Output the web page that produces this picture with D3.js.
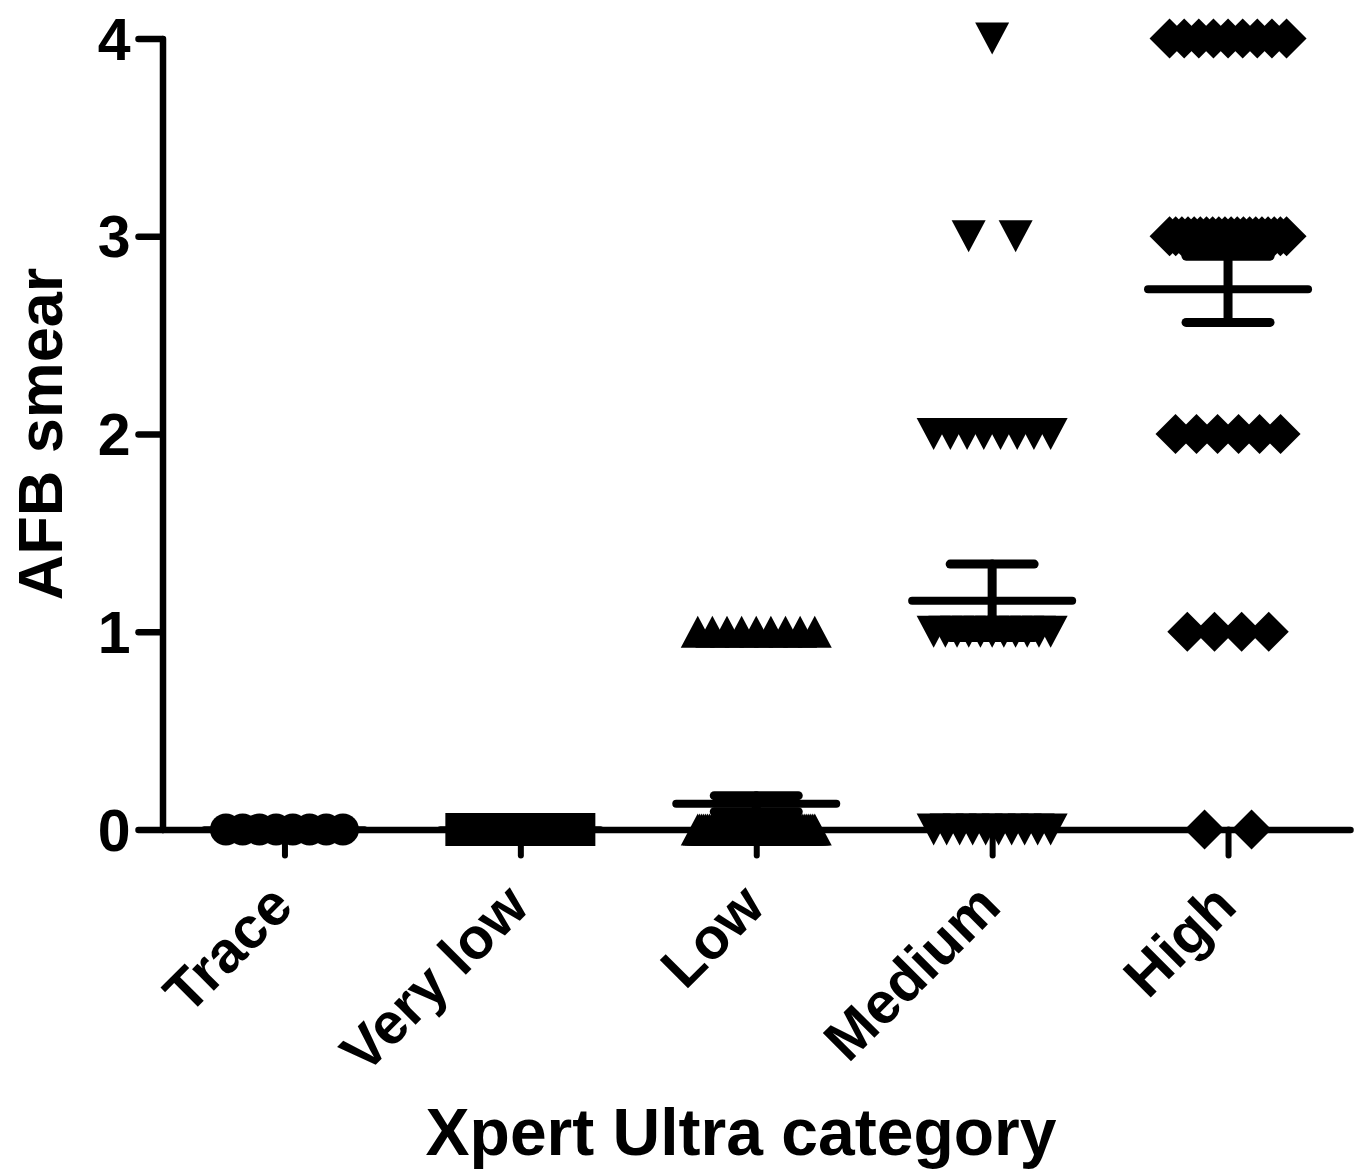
<!DOCTYPE html>
<html>
<head>
<meta charset="utf-8">
<script src="https://cdn.jsdelivr.net/npm/d3@7"></script>
<style>
  body { margin: 0; background: #fff; }
  svg text { font-family: "Liberation Sans", Arial, Helvetica, sans-serif; font-weight: bold; fill: #000; }
</style>
</head>
<body>
<div id="my_dataviz"></div>
<script>
// categories and the AFB smear grade of every sample
var categories = ["Trace", "Very low", "Low", "Medium", "High"];
var yTicks = [0, 1, 2, 3, 4];

var traceValues = [0, 0, 0, 0, 0, 0, 0, 0];
var veryLowValues = [0, 0, 0, 0, 0, 0, 0, 0, 0, 0, 0, 0];
var lowValues = [1, 1, 1, 1, 1, 1, 1, 1, 1,
  0, 0, 0, 0, 0, 0, 0, 0, 0, 0, 0, 0, 0, 0, 0, 0, 0, 0, 0, 0,
  0, 0, 0, 0, 0, 0, 0, 0, 0, 0, 0, 0, 0, 0, 0, 0, 0, 0, 0, 0,
  0, 0, 0, 0, 0, 0, 0, 0, 0, 0, 0, 0, 0, 0, 0, 0, 0, 0, 0, 0];
var mediumValues = [4, 3, 3,
  2, 2, 2, 2, 2, 2, 2, 2,
  1, 1, 1, 1, 1, 1, 1, 1, 1, 1, 1,
  0, 0, 0, 0, 0, 0, 0, 0, 0, 0];
var highValues = [4, 4, 4, 4, 4, 4, 4, 4, 4,
  3, 3, 3, 3, 3, 3, 3, 3, 3, 3, 3, 3, 3, 3, 3, 3, 3, 3, 3, 3,
  2, 2, 2, 2, 2, 2,
  1, 1, 1, 1,
  0, 0];

var groups = [traceValues, veryLowValues, lowValues, mediumValues, highValues];
var shapes = ["circle", "square", "triangleUp", "triangleDown", "diamond"];

// set the dimensions of the graph
var width = 1358, height = 1171;

var svg = d3.select("#my_dataviz")
  .append("svg")
    .attr("width", width)
    .attr("height", height);

/*********************
 * SCALES
 *********************/
var x = d3.scalePoint()
    .domain(categories)
    .range([162.5, 1350])
    .padding(0.517);

var y = d3.scaleLinear()
    .domain([0, 4])
    .range([829.5, 38.5]);

/*********************
 * X AXIS
 *********************/
var xg = svg.append("g")
    .attr("transform", "translate(0," + y(0) + ")")
    .call(d3.axisBottom(x).tickSize(26).tickSizeOuter(0));

xg.select(".domain")
    .attr("stroke-width", 6.5)
    .attr("stroke-linecap", "round");
xg.selectAll(".tick line")
    .attr("stroke-width", 6)
    .attr("stroke-linecap", "round");
xg.selectAll(".tick text")
    .attr("x", 0)
    .attr("y", 0)
    .attr("dy", "0.72em")
    .attr("text-anchor", "end")
    .attr("transform", "translate(-19,50) rotate(-45)")
    .style("font-size", "58px");

/*********************
 * Y AXIS
 *********************/
var yg = svg.append("g")
    .attr("transform", "translate(162.5,0)")
    .call(d3.axisLeft(y).tickValues(yTicks).tickFormat(d3.format("d"))
      .tickSize(24).tickSizeOuter(0).tickPadding(8));

yg.select(".domain")
    .attr("stroke-width", 6.5)
    .attr("stroke-linecap", "round");
yg.selectAll(".tick line")
    .attr("stroke-width", 6.5)
    .attr("stroke-linecap", "round");
yg.selectAll(".tick text")
    .attr("dy", "0.35em")
    .style("font-size", "59px");

// axis titles
svg.append("text")
    .attr("transform", "translate(62,434) rotate(-90)")
    .style("text-anchor", "middle")
    .style("font-size", "63px")
    .text("AFB smear");

svg.append("text")
    .attr("x", 741)
    .attr("y", 1155)
    .style("text-anchor", "middle")
    .style("font-size", "66px")
    .text("Xpert Ultra category");

/*********************
 * MARKERS
 *********************/
function shapePath(shape) {
  var p = d3.path();
  if (shape == "circle") {
    p.arc(0, 0, 16, 0, 2 * Math.PI);
  } else if (shape == "square") {
    p.rect(-16.5, -16.5, 33, 33);
  } else if (shape == "triangleUp") {
    p.moveTo(0, -16); p.lineTo(17, 16); p.lineTo(-17, 16); p.closePath();
  } else if (shape == "triangleDown") {
    p.moveTo(0, 16); p.lineTo(17, -16); p.lineTo(-17, -16); p.closePath();
  } else {
    p.moveTo(0, -20); p.lineTo(20, 0); p.lineTo(0, 20); p.lineTo(-20, 0); p.closePath();
  }
  return p.toString();
}

// points with the same value sit side by side, like a column scatter
var maxSpread = 117;
var points = [];
groups.forEach(function (vals, gi) {
  var rows = d3.group(vals, function (v) { return v; });
  rows.forEach(function (rowVals, v) {
    var n = rowVals.length;
    var spread = n > 1 ? Math.min(maxSpread, 47 * Math.sqrt(n - 1)) : 0;
    var step = n > 1 ? spread / (n - 1) : 0;
    rowVals.forEach(function (d, i) {
      points.push({ cat: categories[gi], shape: shapes[gi], value: v, offset: (i - (n - 1) / 2) * step });
    });
  });
});

svg.selectAll("marker")
  .data(points)
  .enter()
  .append("path")
    .attr("d", function (d) { return shapePath(d.shape); })
    .attr("transform", function (d) { return "translate(" + (x(d.cat) + d.offset) + "," + y(d.value) + ")"; })
    .style("fill", "#000");

/*********************
 * MEAN +/- SEM
 *********************/
var stats = groups.map(function (vals, gi) {
  var m = d3.mean(vals);
  var sem = vals.length > 1 ? d3.deviation(vals) / Math.sqrt(vals.length) : 0;
  return { cat: categories[gi], mean: m, sem: sem };
});

var eb = svg.selectAll("errbar")
  .data(stats)
  .enter()
  .append("g")
    .attr("stroke", "#000")
    .attr("stroke-linecap", "round");

eb.append("line")
    .attr("x1", function (d) { return x(d.cat) - 80; })
    .attr("x2", function (d) { return x(d.cat) + 80; })
    .attr("y1", function (d) { return y(d.mean); })
    .attr("y2", function (d) { return y(d.mean); })
    .attr("stroke-width", function (d) { return d.sem > 0 ? 8 : 6.5; });

eb.filter(function (d) { return d.sem > 0; }).each(function (d) {
  var g = d3.select(this);
  g.append("line")
    .attr("x1", x(d.cat)).attr("x2", x(d.cat))
    .attr("y1", y(d.mean + d.sem)).attr("y2", y(d.mean - d.sem))
    .attr("stroke-width", 9);
  [d.mean + d.sem, d.mean - d.sem].forEach(function (v) {
    g.append("line")
      .attr("x1", x(d.cat) - 42).attr("x2", x(d.cat) + 42)
      .attr("y1", y(v)).attr("y2", y(v))
      .attr("stroke-width", 9);
  });
});
</script>
</body>
</html>
